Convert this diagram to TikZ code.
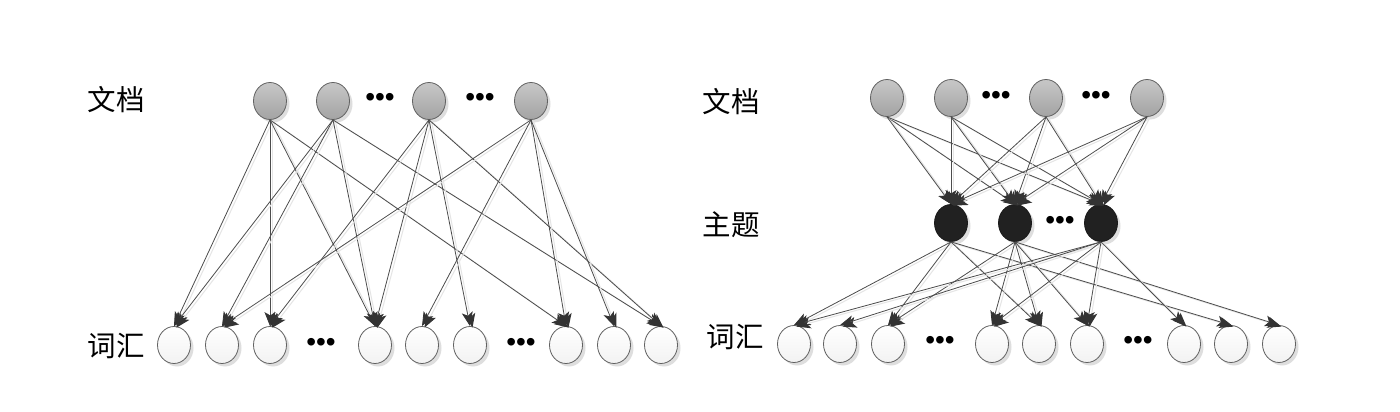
\documentclass[tikz,border=0pt]{standalone}
\usepackage{fontspec}
\setmainfont{Liberation Sans}
\newfontfamily\cjk{Noto Sans CJK SC}
\usetikzlibrary{shapes.geometric,shadows,arrows.meta}
\begin{document}
\begin{tikzpicture}[x=1pt,y=-1pt,
  base/.style={ellipse, minimum width=33pt, minimum height=37pt, inner sep=0pt, draw=black!62, line width=0.8pt,
    drop shadow={shadow xshift=3pt, shadow yshift=-3pt, fill=black!13, opacity=1}},
  docn/.style={base, top color=black!22, bottom color=black!36},
  topn/.style={base, fill=black!87, draw=black!90},
  wordn/.style={base, top color=white, bottom color=black!5},
  lbl/.style={font=\cjk\fontsize{28.5}{30}\selectfont, inner sep=0pt},
  dts/.style={font=\fontsize{28}{30}\selectfont, inner sep=0pt},
  edge/.style={draw=black!70, line width=0.8pt, -{Stealth[length=14pt,width=11pt,inset=3.5pt,color=black!80]},
    preaction={draw=black!10, line width=1pt, transform canvas={shift={(2.5pt,-1.5pt)}}}}
]
\fill[white] (0,0) rectangle (1400,412);
\useasboundingbox (0,0) rectangle (1400,412);

% ---------- left diagram ----------
\node[lbl] (lwd) at (116,100) {文档};
\node[lbl] (lch) at (116,346) {词汇};

\foreach \n/\x in {1/270,2/333,3/429,4/531}
  \node[docn] (ld\n) at (\x,101) {};
\node[dts] (ldt1) at (380,100) {•••};
\node[dts] (ldt2) at (480,100) {•••};

\foreach \n/\x in {1/174,2/222,3/270,4/375,5/422,6/470,7/566,8/614,9/661}
  \node[wordn] (lw\n) at (\x,345) {};
\node[dts] (lwt1) at (321,345) {•••};
\node[dts] (lwt2) at (521,345) {•••};

\foreach \d/\w in {1/1,1/3,1/4,1/7, 2/1,2/2,2/4,2/9, 3/3,3/4,3/6,3/9, 4/2,4/5,4/7,4/8}
  \draw[edge] (ld\d.south) -- (lw\w.north);

% ---------- right diagram ----------
\node[lbl] (rwd) at (731,102) {文档};
\node[lbl] (rzt) at (731,225) {主题};
\node[lbl] (rch) at (735,337) {词汇};

\foreach \n/\x in {1/887,2/951,3/1046,4/1147}
  \node[docn] (rd\n) at (\x,98) {};
\node[dts] (rdt1) at (996,98) {•••};
\node[dts] (rdt2) at (1096,98) {•••};

\foreach \n/\x in {1/951,2/1015,3/1101}
  \node[topn] (rt\n) at (\x,223) {};
\node[dts] (rtt) at (1060,223) {•••};

\foreach \n/\x in {1/794,2/840,3/888,4/992,5/1039,6/1087,7/1184,8/1231,9/1279}
  \node[wordn] (rw\n) at (\x,344) {};
\node[dts] (rwt1) at (940,343) {•••};
\node[dts] (rwt2) at (1138,343) {•••};

\foreach \d in {1,2,3,4}
  \foreach \t in {1,2,3}
    \draw[edge] (rd\d.south) -- (rt\t.north);

\foreach \t/\w in {1/1,1/3,1/5,1/8, 2/3,2/4,2/5,2/6,2/9, 3/1,3/2,3/4,3/6,3/7}
  \draw[edge] (rt\t.south) -- (rw\w.north);
\end{tikzpicture}
\end{document}
